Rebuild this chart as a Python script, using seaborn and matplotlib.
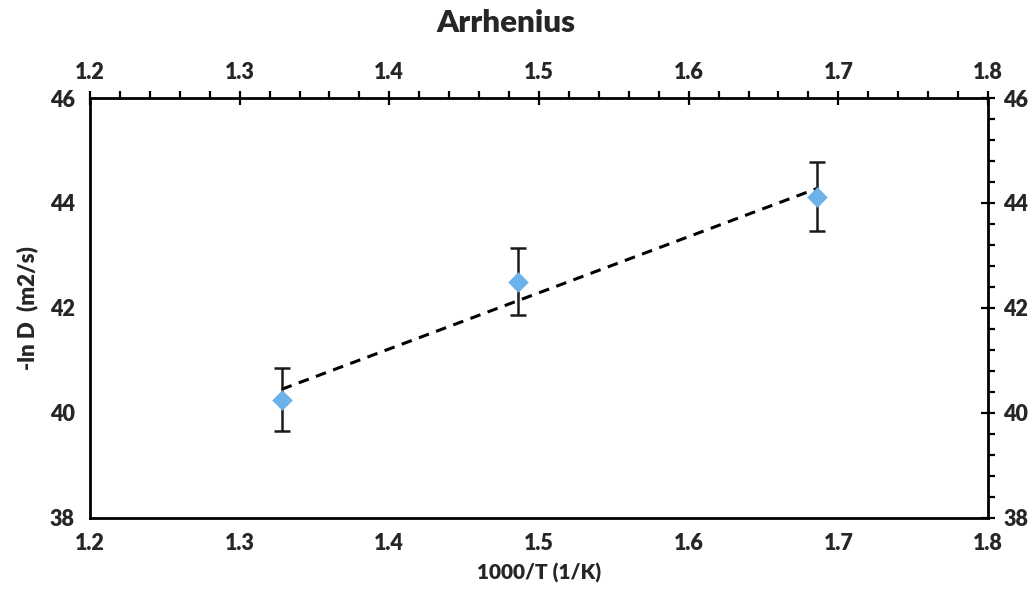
import numpy as np
import pandas as pd
import matplotlib
matplotlib.use("Agg")
import matplotlib.pyplot as plt
import seaborn as sns
from matplotlib.ticker import AutoMinorLocator, MultipleLocator

# data
inv_temp = [1.328, 1.486, 1.686]      # 1000/T (1/K)
neg_ln_d = [40.25, 42.50, 44.12]      # -ln D (m2/s)
err = [0.60, 0.64, 0.66]

df = pd.DataFrame({'x': inv_temp, 'y': neg_ln_d, 'err': err})

sns.set_style('white')
plt.rcParams['font.family'] = ['Lato', 'DejaVu Sans']
plt.rcParams['font.weight'] = 'heavy'

fig = plt.figure(figsize=(10.32, 5.94), dpi=100)
ax = fig.add_axes([0.0872, 0.128, 0.8702, 0.707])

# linear fit line (dashed)
sns.regplot(data=df, x='x', y='y', scatter=False, ci=None, truncate=True,
            line_kws={'color': 'black', 'linestyle': (0, (3.5, 2.5)), 'linewidth': 2.2}, ax=ax)

# error bars
ax.errorbar(df['x'], df['y'], yerr=df['err'], fmt='none', ecolor='#1a1a1a',
            elinewidth=1.8, capsize=6, capthick=1.8, zorder=3)

# markers
sns.scatterplot(data=df, x='x', y='y', marker='D', s=110, color='#6cb2ea',
                edgecolor='#6cb2ea', linewidth=0, ax=ax, zorder=4)

ax.set_xlim(1.2, 1.8)
ax.set_ylim(38, 46)
ax.xaxis.set_major_locator(MultipleLocator(0.1))
ax.yaxis.set_major_locator(MultipleLocator(2))
ax.xaxis.set_minor_locator(AutoMinorLocator(5))
ax.yaxis.set_minor_locator(AutoMinorLocator(5))
ax.xaxis.set_major_formatter(matplotlib.ticker.FormatStrFormatter('%.1f'))

ax.tick_params(which='both', top=True, right=True, labeltop=True, labelright=True,
               color='black', width=1.6)
ax.tick_params(which='major', direction='inout', length=10, labelsize=15.5, pad=6)
ax.tick_params(which='minor', direction='out', length=5)
for lbl in ax.get_xticklabels() + ax.get_yticklabels():
    lbl.set_fontweight('heavy')

for s in ax.spines.values():
    s.set_visible(True)
    s.set_color('black')
    s.set_linewidth(2)

ax.set_xlabel('1000/T (1/K)', fontsize=15, fontweight='heavy', labelpad=6)
ax.set_ylabel('-ln D  (m2/s)', fontsize=16, fontweight='heavy', labelpad=8)
fig.text(0.49, 0.985, 'Arrhenius', fontsize=22.5, fontweight='heavy', ha='center', va='top')

fig.savefig('out.png', dpi=100)
